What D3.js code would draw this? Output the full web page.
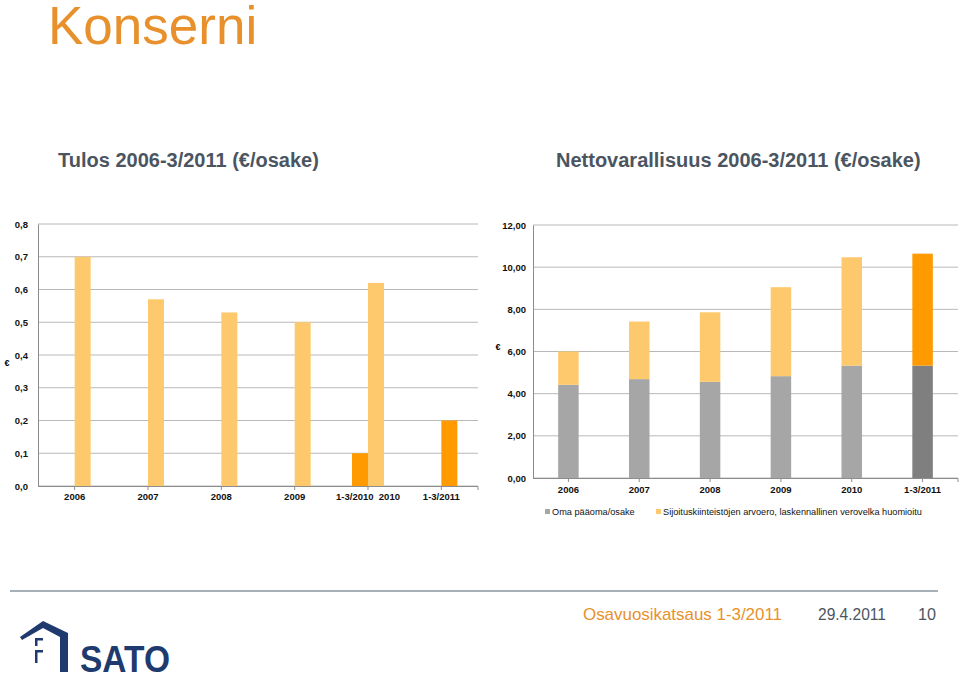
<!DOCTYPE html>
<html>
<head>
<meta charset="utf-8">
<script src="https://cdn.jsdelivr.net/npm/d3@7"></script>
<style>
  body { margin: 0; background: #fff; }
  svg { display: block; font-family: "Liberation Sans", Arial, sans-serif; }
  .tick text { white-space: pre; }
</style>
</head>
<body>
<svg id="slide" width="960" height="677"></svg>
<script>
// Tulos (left chart)
var tulosCats = ["2006", "2007", "2008", "2009", "1-3/2010  2010", "1-3/2011"];
var tulosQuarter = [null, null, null, null, 0.10, null];
var tulosYear = [0.70, 0.57, 0.53, 0.50, 0.62, 0.20];
var tulosYearIsQuarter = [false, false, false, false, false, true];
var tulosTicks = [0, 0.1, 0.2, 0.3, 0.4, 0.5, 0.6, 0.7, 0.8];

// Nettovarallisuus (right chart)
var nettoCats = ["2006", "2007", "2008", "2009", "2010", "1-3/2011"];
var nettoEquity = [4.42, 4.69, 4.56, 4.83, 5.33, 5.33];
var nettoValueDiff = [1.58, 2.73, 3.30, 4.22, 5.14, 5.31];
var nettoTicks = [0, 2, 4, 6, 8, 10, 12];
var nettoLegend = ["Oma pääoma/osake", "Sijoituskiinteistöjen arvoero, laskennallinen verovelka huomioitu"];

var light = "#fdc96c", dark = "#ff9a00", grey = "#a6a6a6", darkGrey = "#7f7f7f";
var gridColor = "#b8b8b8", axisColor = "#8c8c8c";

var svg = d3.select("#slide");
var comma = f => v => d3.format(f)(v).replace(".", ",");

// headings
svg.append("text").attr("x", 48).attr("y", 44).attr("fill", "#e8912c")
  .style("font-size", "53px").text("Konserni");
svg.append("text").attr("x", 58).attr("y", 167).attr("fill", "#4b5561")
  .style("font-size", "20px").style("font-weight", "bold").text("Tulos 2006-3/2011 (€/osake)");
svg.append("text").attr("x", 556).attr("y", 167).attr("fill", "#4b5561")
  .style("font-size", "20px").style("font-weight", "bold").text("Nettovarallisuus 2006-3/2011 (€/osake)");

function drawAxes(g, x, y, ticks, fmt, left, right, labelX, xPad) {
  g.append("g").selectAll("line").data(ticks).join("line")
    .attr("x1", left).attr("x2", right)
    .attr("y1", d => y(d)).attr("y2", d => y(d))
    .attr("stroke", gridColor).attr("stroke-width", 1);

  var ya = g.append("g").attr("transform", `translate(${left},0)`)
    .call(d3.axisLeft(y).tickValues(ticks).tickFormat(fmt).tickSize(0).tickPadding(left - labelX));
  ya.select(".domain").attr("stroke", axisColor);
  ya.selectAll("text").style("font-size", "9.5px").style("font-weight", "bold").attr("fill", "#111");

  var xa = g.append("g").attr("transform", `translate(0,${y(0)})`)
    .call(d3.axisBottom(x).tickSize(4).tickPadding(xPad).tickSizeOuter(0));
  xa.select(".domain").attr("stroke", axisColor).attr("d", `M${left},0.5H${right}V4`);
  xa.selectAll("line").attr("stroke", axisColor);
  xa.selectAll("text").style("font-size", "9.5px").style("font-weight", "bold").attr("fill", "#111");
}

// ---- left chart
var lx = d3.scaleBand().domain(tulosCats).range([38, 478]);
var ly = d3.scaleLinear().domain([0, 0.8]).range([486, 224]);
var lsub = d3.scaleBand().domain(["q", "y"]).range([lx.bandwidth() / 2 - 16, lx.bandwidth() / 2 + 16]);
var gl = svg.append("g");
drawAxes(gl, lx, ly, tulosTicks, comma(".1f"), 38, 478, 28, 3);

gl.append("g").selectAll("rect").data(tulosCats.map((c, i) => ({c, v: tulosQuarter[i]})).filter(d => d.v != null))
  .join("rect")
  .attr("x", d => lx(d.c) + lsub("q")).attr("width", lsub.bandwidth())
  .attr("y", d => ly(d.v)).attr("height", d => ly(0) - ly(d.v))
  .attr("fill", dark);
gl.append("g").selectAll("rect").data(tulosCats.map((c, i) => ({c, v: tulosYear[i], q: tulosYearIsQuarter[i]})))
  .join("rect")
  .attr("x", d => lx(d.c) + lsub("y")).attr("width", lsub.bandwidth())
  .attr("y", d => ly(d.v)).attr("height", d => ly(0) - ly(d.v))
  .attr("fill", d => d.q ? dark : light);
gl.append("text").attr("x", 7).attr("y", 366).attr("text-anchor", "middle")
  .style("font-size", "9px").style("font-weight", "bold").text("€");

// ---- right chart
var rx = d3.scaleBand().domain(nettoCats).range([533, 958]);
var ry = d3.scaleLinear().domain([0, 12]).range([478, 225]);
var gr = svg.append("g");
drawAxes(gr, rx, ry, nettoTicks, comma(".2f"), 533, 958, 526, 4);

var barW = 20.5;
var stackData = nettoCats.map((c, i) => ({c, a: nettoEquity[i], b: nettoValueDiff[i], last: i === nettoCats.length - 1}));
var bars = gr.append("g").selectAll("g").data(stackData).join("g");
bars.append("rect")
  .attr("x", d => rx(d.c) + rx.bandwidth() / 2 - barW / 2).attr("width", barW)
  .attr("y", d => ry(d.a)).attr("height", d => ry(0) - ry(d.a))
  .attr("fill", d => d.last ? darkGrey : grey);
bars.append("rect")
  .attr("x", d => rx(d.c) + rx.bandwidth() / 2 - barW / 2).attr("width", barW)
  .attr("y", d => ry(d.a + d.b)).attr("height", d => ry(d.a) - ry(d.a + d.b))
  .attr("fill", d => d.last ? dark : light);
gr.append("text").attr("x", 498).attr("y", 350).attr("text-anchor", "middle")
  .style("font-size", "9px").style("font-weight", "bold").text("€");

// legend
var legX = [545, 656];
var leg = gr.append("g").selectAll("g").data(nettoLegend).join("g")
  .attr("transform", (d, i) => `translate(${legX[i]},515)`);
leg.append("rect").attr("y", -6).attr("width", 5).attr("height", 5)
  .attr("fill", (d, i) => i === 0 ? grey : light);
leg.append("text").attr("x", 7).style("font-size", "9.2px").attr("fill", "#111").text(d => d);

// footer
svg.append("line").attr("x1", 10).attr("x2", 938).attr("y1", 591).attr("y2", 591)
  .attr("stroke", "#8a959f").attr("stroke-width", 1.5);
svg.append("text").attr("x", 583).attr("y", 620).attr("fill", "#e8912c")
  .style("font-size", "17px").attr("textLength", 199).attr("lengthAdjust", "spacingAndGlyphs").text("Osavuosikatsaus 1-3/2011");
svg.append("text").attr("x", 818).attr("y", 620).attr("fill", "#4b5561")
  .style("font-size", "17px").attr("textLength", 68).attr("lengthAdjust", "spacingAndGlyphs").text("29.4.2011");
svg.append("text").attr("x", 918).attr("y", 620).attr("fill", "#4b5561")
  .style("font-size", "17px").attr("textLength", 18).attr("lengthAdjust", "spacingAndGlyphs").text("10");

// SATO logo
var blue = "#1f3a6e";
var logo = svg.append("g");
logo.append("path").attr("d", "M20,637 L43,621 L68,633 L68,672 L60,672 L60,637 L43,628 L22,640 Z").attr("fill", blue);
logo.append("path").attr("d", "M35,638 H43 V640.5 H37.5 V646 H35 Z M35,650 H43 V652.5 H37.5 V663 H35 Z").attr("fill", blue);
logo.append("text").attr("x", 80).attr("y", 672).attr("fill", blue)
  .style("font-size", "37px").style("font-weight", "bold")
  .attr("textLength", 90).attr("lengthAdjust", "spacingAndGlyphs").text("SATO");
</script>
</body>
</html>
